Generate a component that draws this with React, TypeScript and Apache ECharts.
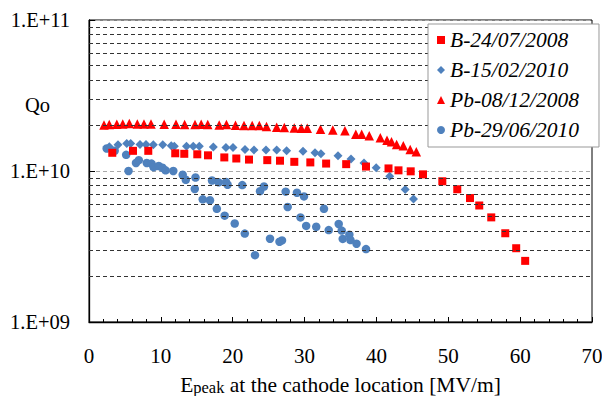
import React, { useEffect, useRef } from "react";
import * as echarts from "echarts";

const FONT = "Liberation Serif";

const seriesNames = ["B-24/07/2008", "B-15/02/2010", "Pb-08/12/2008", "Pb-29/06/2010"];

const b2008X = [3.24, 6.12, 8.25, 12.0, 13.26, 15.07, 16.56, 18.83, 20.5, 22.27, 24.81, 26.58, 28.57, 30.8, 33.0, 35.79, 38.55, 41.68, 43.07, 44.77, 46.48, 49.17, 51.25, 53.02, 54.31, 55.98, 57.93, 59.45, 60.7];
const b2008Y = [1.32e10, 1.36e10, 1.36e10, 1.31e10, 1.30e10, 1.29e10, 1.27e10, 1.23e10, 1.21e10, 1.19e10, 1.18e10, 1.17e10, 1.15e10, 1.14e10, 1.12e10, 1.11e10, 1.07e10, 1.04e10, 1.01e10, 9.95e9, 9.5e9, 8.55e9, 7.57e9, 6.62e9, 5.91e9, 4.93e9, 3.87e9, 3.08e9, 2.54e9];

const b2010X = [2.83, 4.04, 5.25, 5.8, 7.1, 7.93, 8.95, 10.26, 11.45, 11.87, 13.57, 14.51, 15.35, 17.3, 19.06, 20.04, 21.71, 22.96, 24.63, 26.12, 27.5, 29.78, 31.45, 32.28, 34.65, 36.46, 38.27, 39.97, 41.85, 44.0, 45.16];
const b2010Y = [1.45e10, 1.49e10, 1.52e10, 1.52e10, 1.5e10, 1.5e10, 1.49e10, 1.49e10, 1.47e10, 1.46e10, 1.46e10, 1.46e10, 1.46e10, 1.44e10, 1.43e10, 1.43e10, 1.39e10, 1.38e10, 1.38e10, 1.38e10, 1.36e10, 1.35e10, 1.32e10, 1.3e10, 1.26e10, 1.2e10, 1.13e10, 1.05e10, 9.22e9, 7.54e9, 6.53e9];

const pb2008X = [2.09, 2.82, 3.87, 4.7, 5.61, 6.72, 7.65, 8.63, 10.46, 12.11, 13.31, 14.75, 15.61, 16.53, 18.12, 19.13, 20.39, 21.57, 22.71, 23.7, 24.7, 26.12, 27.18, 28.56, 29.54, 30.37, 32.22, 33.93, 35.62, 37.13, 37.95, 39.0, 40.54, 41.47, 42.1, 42.81, 43.74, 44.7, 45.55];
const pb2008Y = [2.02e10, 2.03e10, 2.04e10, 2.05e10, 2.06e10, 2.05e10, 2.05e10, 2.05e10, 2.04e10, 2.04e10, 2.03e10, 2.03e10, 2.04e10, 2.03e10, 2.02e10, 2.03e10, 2.01e10, 2.0e10, 2.0e10, 2.0e10, 1.97e10, 1.95e10, 1.94e10, 1.93e10, 1.92e10, 1.92e10, 1.89e10, 1.87e10, 1.85e10, 1.75e10, 1.75e10, 1.71e10, 1.66e10, 1.6e10, 1.56e10, 1.5e10, 1.47e10, 1.39e10, 1.34e10];

const pb2010X = [2.46, 3.57, 5.17, 5.5, 6.54, 6.93, 8.04, 8.7, 8.99, 9.71, 10.23, 10.66, 11.73, 13.04, 13.47, 14.82, 14.72, 15.83, 16.84, 17.12, 17.79, 18.05, 18.88, 19.07, 19.28, 20.28, 21.33, 21.68, 23.1, 23.8, 24.35, 25.19, 26.51, 26.86, 27.37, 27.65, 28.94, 29.43, 29.92, 30.22, 31.62, 32.7, 33.36, 34.75, 35.17, 35.31, 36.23, 36.39, 37.23, 38.55];
const pb2010Y = [1.41e10, 1.36e10, 1.28e10, 1.0e10, 1.13e10, 1.18e10, 1.13e10, 1.12e10, 1.06e10, 1.08e10, 1.05e10, 1.01e10, 1.0e10, 9.44e9, 8.75e9, 9.05e9, 7.6e9, 6.49e9, 6.4e9, 8.65e9, 5.62e9, 8.41e9, 5.06e9, 8.45e9, 8.11e9, 4.49e9, 8.07e9, 3.85e9, 2.77e9, 7.35e9, 7.89e9, 3.56e9, 3.4e9, 3.47e9, 7.3e9, 5.78e9, 7.18e9, 4.93e9, 6.79e9, 4.33e9, 4.27e9, 5.62e9, 4.06e9, 4.46e9, 4.03e9, 3.55e9, 3.79e9, 3.49e9, 3.3e9, 3.04e9];

const xTickValues = { min: 0, max: 70, interval: 10 };
const yRange = { min: 1e9, max: 1e11 };
const minorGridMantissas = [2, 3, 4, 5, 6, 7, 8, 9];
const minorGridDecades = [1e9, 1e10];

const zip = (xs: number[], ys: number[]) => xs.map((x, i) => [x, ys[i]]);

export default function App() {
  const ref = useRef<HTMLDivElement>(null);
  useEffect(() => {
    document.body.style.margin = "0";
    const chart = echarts.init(ref.current!, null, { renderer: "svg" });
    const minorGrid = minorGridDecades.flatMap((d) => minorGridMantissas.map((m) => ({ yAxis: m * d })));
    const blue = "#4f81bd";
    const red = "#ff0000";
    chart.setOption({
      animation: false,
      backgroundColor: "#fff",
      textStyle: { fontFamily: FONT },
      grid: {
        left: 89,
        top: 20,
        right: 10,
        bottom: 74,
        show: true,
        borderColor: "#000",
        borderWidth: 1,
        containLabel: false,
        outerBoundsMode: "none",
      },
      xAxis: {
        type: "value",
        min: xTickValues.min,
        max: xTickValues.max,
        interval: xTickValues.interval,
        axisLine: { show: true, lineStyle: { color: "#000", width: 1.3 } },
        axisTick: { show: true, inside: true, length: 5, lineStyle: { color: "#000" } },
        minorTick: { show: true, splitNumber: 5, length: 3, lineStyle: { color: "#000" } },
        splitLine: { show: false },
        axisLabel: { margin: 23, fontSize: 21, color: "#000", fontFamily: FONT },
        name: "{e|E}{p|peak}{r| at the cathode location [MV/m]}",
        nameLocation: "middle",
        nameGap: 52,
        nameTextStyle: {
          fontFamily: FONT,
          fontSize: 21.5,
          color: "#000",
          rich: {
            e: { fontFamily: FONT, fontSize: 21.5, lineHeight: 22, verticalAlign: "bottom", color: "#000" },
            p: { fontFamily: FONT, fontSize: 16.5, lineHeight: 22, verticalAlign: "bottom", color: "#000" },
            r: { fontFamily: FONT, fontSize: 21.5, lineHeight: 22, verticalAlign: "bottom", color: "#000" },
          },
        },
      },
      yAxis: {
        type: "log",
        logBase: 10,
        min: yRange.min,
        max: yRange.max,
        axisLine: { show: true, lineStyle: { color: "#000", width: 1.3 } },
        axisTick: { show: true, inside: true, length: 6, lineStyle: { color: "#000" } },
        splitLine: { show: true, lineStyle: { color: "#aaa", type: [4, 3] } },
        axisLabel: {
          margin: 19,
          fontSize: 20.5,
          color: "#000",
          fontFamily: FONT,
          formatter: (v: number) => {
            const e = Math.round(Math.log10(v));
            return "1.E+" + (e < 10 ? "0" + e : String(e));
          },
        },
      },
      legend: {
        orient: "vertical",
        left: 428,
        top: 24,
        backgroundColor: "#fff",
        borderColor: "#999",
        borderWidth: 1,
        borderRadius: 0,
        padding: [5, 20, 6, 9],
        itemWidth: 8,
        itemHeight: 8,
        itemGap: 8,
        textStyle: { fontFamily: FONT, fontStyle: "italic", fontSize: 21.5, lineHeight: 21.5, color: "#000" },
        data: [
          { name: seriesNames[0], icon: "rect" },
          { name: seriesNames[1], icon: "diamond" },
          { name: seriesNames[2], icon: "triangle" },
          { name: seriesNames[3], icon: "circle" },
        ],
        z: 10,
      },
      graphic: [
        { type: "text", left: 25, top: 94, style: { text: "Qo", fontSize: 20.5, fontFamily: FONT, fill: "#000" } },
      ],
      series: [
        {
          name: "grid-minor",
          type: "scatter",
          data: [],
          silent: true,
          markLine: {
            silent: true,
            symbol: ["none", "none"],
            label: { show: false },
            lineStyle: { color: "#333", width: 1, type: [4, 3] },
            emphasis: { disabled: true },
            data: minorGrid,
          },
        },
        {
          name: seriesNames[3],
          type: "scatter",
          symbol: "circle",
          symbolSize: 8.5,
          itemStyle: { color: blue, opacity: 1 },
          data: zip(pb2010X, pb2010Y),
        },
        {
          name: seriesNames[1],
          type: "scatter",
          symbol: "diamond",
          symbolSize: 9,
          itemStyle: { color: blue, opacity: 1 },
          data: zip(b2010X, b2010Y),
        },
        {
          name: seriesNames[2],
          type: "scatter",
          symbol: "triangle",
          symbolSize: 9.5,
          itemStyle: { color: red, opacity: 1 },
          data: zip(pb2008X, pb2008Y),
        },
        {
          name: seriesNames[0],
          type: "scatter",
          symbol: "rect",
          symbolSize: 8,
          itemStyle: { color: red, opacity: 1 },
          data: zip(b2008X, b2008Y),
        },
      ],
    });
    return () => chart.dispose();
  }, []);
  return <div ref={ref} style={{ width: 602, height: 396 }} />;
}
